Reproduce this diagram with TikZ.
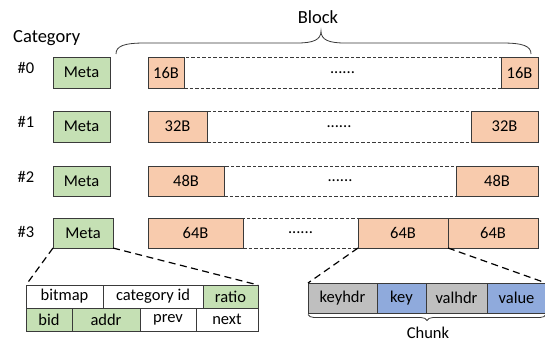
\documentclass[tikz,border=0pt]{standalone}
\usepackage{fontspec}
\setmainfont{Carlito}
\usetikzlibrary{decorations.pathreplacing}
\definecolor{metagreen}{HTML}{C5E0B4}
\definecolor{blkorange}{HTML}{F8CBAD}
\definecolor{hdrgray}{HTML}{BFBFBF}
\definecolor{kvblue}{HTML}{8FAADC}
\definecolor{edge}{HTML}{3A3A3A}
\tikzset{
  x=1pt, y=-1pt,
  cell/.style={draw=edge, line width=0.9pt, inner sep=0pt, outer sep=0pt, font=\fontsize{16.5}{18}\selectfont, text=black},
  metabox/.style={cell, fill=metagreen, minimum height=30pt},
  blkbox/.style={cell, fill=blkorange, minimum height=31pt},
  dashbox/.style={draw=edge, dashed, dash pattern=on 3.5pt off 2pt, line width=0.9pt, inner sep=0pt, outer sep=0pt, minimum height=31pt, font=\fontsize{16.5}{18}\selectfont},
  tabcell/.style={cell, minimum height=23pt},
  chunkcell/.style={cell, minimum height=30pt},
  lbl/.style={inner sep=0pt, font=\fontsize{16.5}{18}\selectfont},
  biglbl/.style={inner sep=0pt, font=\fontsize{18.5}{20}\selectfont},
  conn/.style={draw=black, line width=1.2pt, dash pattern=on 7pt off 4.5pt},
}
\begin{document}
\begin{tikzpicture}
\useasboundingbox (0,0) rectangle (545,343);

% labels
\node[biglbl, anchor=west] (category) at (13,38) {Category};
\node[biglbl] (blocklbl) at (318,17) {Block};
\draw[line width=0.8pt, draw=edge] (116,54) .. controls (116,46) and (124,43) .. (145,43) -- (297,43) .. controls (313,43) and (321,40) .. (321,31) .. controls (321,40) and (329,43) .. (345,43) -- (502,43) .. controls (523,43) and (531,46) .. (531,54);

\node[lbl, anchor=base] (r0) at (26,73) {\#0};
\node[lbl, anchor=base] (r1) at (26,127) {\#1};
\node[lbl, anchor=base] (r2) at (26,182) {\#2};
\node[lbl, anchor=base] (r3) at (26,237) {\#3};

% meta boxes
\node[metabox, minimum width=57pt, minimum height=31pt] (meta0) at (81.5,72.5) {Meta};
\node[metabox, minimum width=57pt, minimum height=31pt] (meta1) at (81.5,126.5) {Meta};
\node[metabox, minimum width=57pt] (meta2) at (81.5,181) {Meta};
\node[metabox, minimum width=60pt] (meta3) at (83,233) {Meta};

% row 0
\node[dashbox, minimum width=317pt] (d0) at (342.5,72.5) {......};
\node[blkbox, minimum width=36pt] (b0l) at (166,72.5) {16B};
\node[blkbox, minimum width=37pt] (b0r) at (519.5,72.5) {16B};
\draw[edge, dashed, dash pattern=on 3.5pt off 2pt, line width=0.9pt] (b0r.north west) -- (b0r.south west);
% row 1
\node[dashbox, minimum width=264pt] (d1) at (339,126.5) {......};
\node[blkbox, minimum width=59pt] (b1l) at (177.5,126.5) {32B};
\node[blkbox, minimum width=67pt] (b1r) at (504.5,126.5) {32B};
\draw[edge, dashed, dash pattern=on 3.5pt off 2pt, line width=0.9pt] (b1l.north east) -- (b1l.south east);
% row 2
\node[dashbox, minimum width=232pt, minimum height=30pt] (d2) at (340,181) {......};
\node[blkbox, minimum width=76pt, minimum height=30pt] (b2l) at (186,181) {48B};
\node[blkbox, minimum width=82pt, minimum height=30pt] (b2r) at (497,181) {48B};
\draw[edge, dashed, dash pattern=on 3.5pt off 2pt, line width=0.9pt] (b2l.north east) -- (b2l.south east);
% row 3
\node[dashbox, minimum width=115pt, minimum height=30pt] (d3) at (300.5,233) {......};
\node[blkbox, minimum width=95pt, minimum height=30pt] (b3l) at (195.5,233) {64B};
\node[blkbox, minimum width=90pt, minimum height=30pt] (b3m) at (403,233) {64B};
\node[blkbox, minimum width=90pt, minimum height=30pt] (b3r) at (493,233) {64B};
\draw[edge, dashed, dash pattern=on 3.5pt off 2pt, line width=0.9pt] (b3m.north west) -- (b3m.south west);

% meta table
\node[tabcell, minimum width=77pt] (t-bitmap) at (64.5,296.5) {bitmap};
\node[tabcell, minimum width=100pt] (t-catid) at (153,296.5) {category id};
\node[tabcell, fill=metagreen, minimum width=55pt] (t-ratio) at (230.5,296.5) {ratio};
\node[tabcell, fill=metagreen, minimum width=46pt] (t-bid) at (49,319.5) {bid};
\node[tabcell, fill=metagreen, minimum width=68pt] (t-addr) at (106,319.5) {addr};
\node[tabcell, minimum width=56pt] (t-prev) at (168,319.5) {prev};
\node[tabcell, minimum width=62pt] (t-next) at (227,319.5) {next};

% chunk
\node[chunkcell, fill=hdrgray, minimum width=69pt] (c-keyhdr) at (342.5,298) {keyhdr};
\node[chunkcell, fill=kvblue, minimum width=49pt] (c-key) at (401.5,298) {key};
\node[chunkcell, fill=hdrgray, minimum width=61pt] (c-valhdr) at (456.5,298) {valhdr};
\node[chunkcell, fill=kvblue, minimum width=59pt] (c-value) at (516.5,298) {value};
\draw[draw=edge, line width=0.8pt, decorate, decoration={brace, mirror, amplitude=6pt}] ([yshift=-1.5pt]c-keyhdr.south west) -- ([yshift=-1.5pt]c-value.south east);
\node[lbl, anchor=base] (chunklbl) at (428,338.5) {Chunk};

% connectors
\draw[conn] (meta3.south west) -- (t-bitmap.north west);
\draw[conn] (meta3.south east) -- (t-ratio.north east);
\draw[conn] (b3m.south west) -- (c-keyhdr.north west);
\draw[conn] (b3m.south east) -- (c-value.north east);
\end{tikzpicture}
\end{document}
